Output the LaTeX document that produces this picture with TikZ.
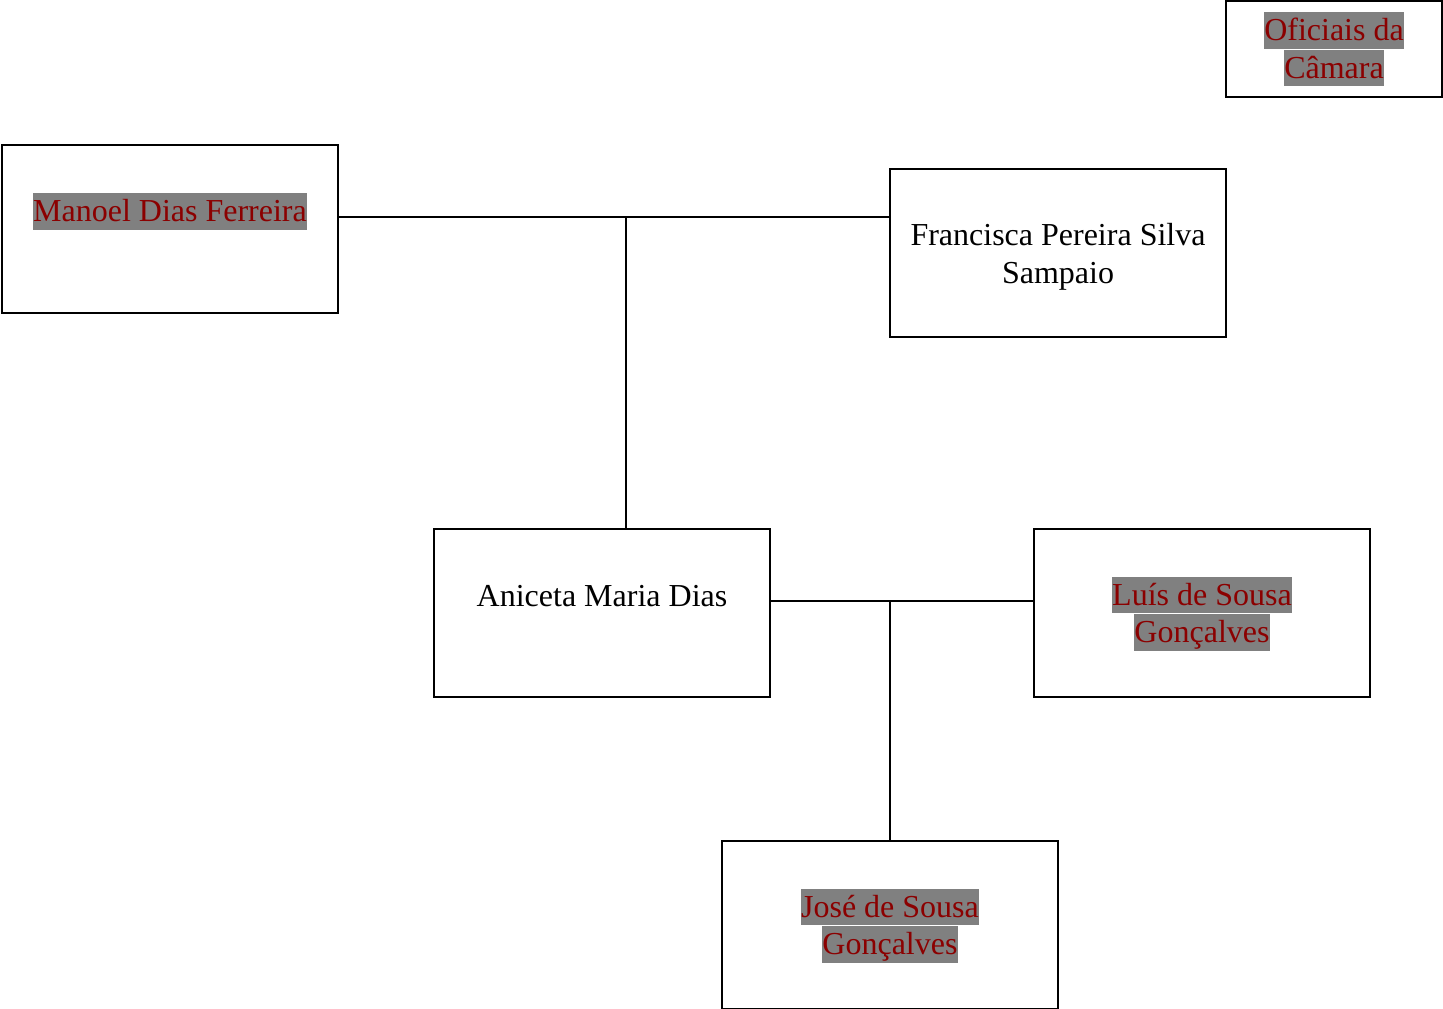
\documentclass[tikz,border=0pt]{standalone}
\usepackage{fontspec}
\setmainfont{Liberation Serif}
\definecolor{namered}{HTML}{8B0000}
\definecolor{markgray}{HTML}{808080}
\tikzset{
  person/.style={draw=black, line width=2pt, minimum width=336pt, minimum height=168pt, inner sep=0pt},
  txt/.style={font=\fontsize{32}{38}\selectfont, inner sep=0pt, text height=28.5pt, text depth=8pt},
  hilite/.style={txt, fill=markgray, text=namered},
  link/.style={line width=2pt}
}
\begin{document}
\begin{tikzpicture}[x=1pt, y=-1pt]
\useasboundingbox[fill=white] (0,0) rectangle (1443,1009);
% boxes
\node[person, minimum width=216pt, minimum height=96pt] (ofc) at (1334,49) {};
\node[person] (man) at (170,229) {};
\node[person] (fra) at (1058,253) {};
\node[person] (ani) at (602,613) {};
\node[person] (lui) at (1202,613) {};
\node[person] (jos) at (890,924.5) {};
% names
\node[hilite] (ofc1) at (1334,30.5) {Oficiais da};
\node[hilite] (ofc2) at (1334,68) {Câmara};
\node[hilite] (man1) at (170,211.5) {Manoel Dias Ferreira};
\node[txt] (fra1) at (1058,235.5) {Francisca Pereira Silva};
\node[txt] (fra2) at (1058,273) {Sampaio};
\node[txt] (ani1) at (602,596) {Aniceta Maria Dias};
\node[hilite] (lui1) at (1202,595) {Luís de Sousa};
\node[hilite] (lui2) at (1202,632.5) {Gonçalves};
\node[hilite] (jos1) at (890,907) {José de Sousa};
\node[hilite] (jos2) at (890,944.5) {Gonçalves};
% couples and descent
\coordinate (m1) at (626,217);
\coordinate (m2) at (890,601);
\draw[link] (man.east |- m1) -- (fra.west |- m1);
\draw[link] (m1) -- (m1 |- ani.north);
\draw[link] (ani.east |- m2) -- (lui.west |- m2);
\draw[link] (m2) -- (jos.north);
\end{tikzpicture}
\end{document}
